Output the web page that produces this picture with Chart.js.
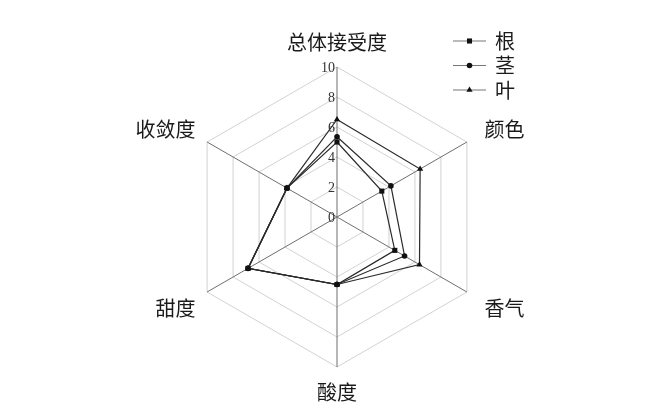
<!DOCTYPE html>
<html>
<head>
<meta charset="utf-8">
<script src="https://cdn.jsdelivr.net/npm/chart.js@4/dist/chart.umd.min.js"></script>
<style>
  html, body { margin: 0; padding: 0; background: #fff; }
  #wrap { width: 662px; height: 416px; }
</style>
</head>
<body>
<div id="wrap"><canvas id="radar"></canvas></div>
<script>
const categories = ['总体接受度', '颜色', '香气', '酸度', '甜度', '收敛度'];
const seriesNames = ['根', '茎', '叶'];
const rootValues = [5.0, 3.45, 4.45, 4.5, 6.85, 3.85];
const stemValues = [5.35, 4.15, 5.2, 4.5, 6.85, 3.85];
const leafValues = [6.5, 6.4, 6.35, 4.5, 6.85, 3.85];
const tickValues = [0, 2, 4, 6, 8, 10];

const cjkFont = '"Noto Sans CJK SC", "Noto Sans", sans-serif';

// axis names round the outside
const pointLabelPlugin = {
    id: 'pointLabelPlugin',
    afterDraw(chart) {
        const ctx = chart.ctx;
        const scale = chart.scales.r;
        ctx.save();
        ctx.font = '20px ' + cjkFont;
        ctx.fillStyle = '#1a1a1a';
        ctx.textBaseline = 'middle';
        categories.forEach((label, i) => {
            const pos = scale.getPointPosition(i, scale.drawingArea + 25);
            const dx = pos.x - scale.xCenter;
            const dy = pos.y - scale.yCenter;
            let x = pos.x;
            let y = pos.y + (Math.abs(dx) > 1 && dy > 0 ? 4 : 0);
            if (Math.abs(dx) < 1) {
                ctx.textAlign = 'center';
            } else if (dx > 0) {
                ctx.textAlign = 'left';
                x -= 4;
            } else {
                ctx.textAlign = 'right';
                x += 10;
            }
            ctx.fillText(label, x, y);
        });
        ctx.restore();
    }
};

// scale numbers to the left of the vertical axis
const tickLabelPlugin = {
    id: 'tickLabelPlugin',
    afterDraw(chart) {
        const ctx = chart.ctx;
        const scale = chart.scales.r;
        ctx.save();
        ctx.font = '14px "Liberation Serif", "DejaVu Serif", serif';
        ctx.fillStyle = '#333';
        ctx.textAlign = 'right';
        ctx.textBaseline = 'middle';
        tickValues.forEach(v => {
            const y = scale.yCenter - scale.getDistanceFromCenterForValue(v);
            ctx.fillText(String(v), scale.xCenter - 2, y + 1);
        });
        ctx.restore();
    }
};

function drawMarker(ctx, style, x, y, r) {
    ctx.beginPath();
    if (style === 'rect') {
        const s = r * Math.SQRT1_2;
        ctx.rect(x - s, y - s, 2 * s, 2 * s);
    } else if (style === 'triangle') {
        ctx.moveTo(x, y - r);
        ctx.lineTo(x + r * 0.87, y + r * 0.5);
        ctx.lineTo(x - r * 0.87, y + r * 0.5);
        ctx.closePath();
    } else {
        ctx.arc(x, y, r, 0, Math.PI * 2);
    }
    ctx.fill();
}

// vertical legend in the upper right corner
const legendPlugin = {
    id: 'legendPlugin',
    afterDraw(chart) {
        const ctx = chart.ctx;
        const left = 453, lineLen = 33, top = 41, step = 24.5;
        ctx.save();
        ctx.font = '20px ' + cjkFont;
        ctx.textBaseline = 'middle';
        ctx.textAlign = 'left';
        chart.data.datasets.forEach((ds, i) => {
            const y = top + i * step;
            ctx.strokeStyle = '#777';
            ctx.lineWidth = 1.2;
            ctx.beginPath();
            ctx.moveTo(left, y);
            ctx.lineTo(left + lineLen, y);
            ctx.stroke();
            ctx.fillStyle = '#111';
            drawMarker(ctx, ds.pointStyle, left + lineLen / 2, y, ds.pointRadius);
            ctx.fillStyle = '#1a1a1a';
            ctx.fillText(ds.label, left + lineLen + 9, y);
        });
        ctx.restore();
    }
};

function makeDataset(name, values, style, radius) {
    return {
        label: name,
        data: values,
        fill: false,
        borderColor: '#2b2b2b',
        borderWidth: 1.2,
        pointStyle: style,
        pointRadius: radius,
        pointBackgroundColor: '#111',
        pointBorderColor: '#111',
        pointBorderWidth: 0,
        tension: 0
    };
}

const ctx = document.getElementById('radar').getContext('2d');
new Chart(ctx, {
    type: 'radar',
    data: {
        labels: categories,
        datasets: [
            makeDataset(seriesNames[0], rootValues, 'rect', 3.6),
            makeDataset(seriesNames[1], stemValues, 'circle', 2.8),
            makeDataset(seriesNames[2], leafValues, 'triangle', 3.6)
        ]
    },
    options: {
        responsive: true,
        maintainAspectRatio: false,
        animation: false,
        layout: {
            padding: { top: 67, bottom: 49, left: 187, right: 175 }
        },
        plugins: {
            legend: { display: false },
            tooltip: { enabled: false }
        },
        scales: {
            r: {
                min: 0,
                max: 10,
                ticks: { stepSize: 2, display: false },
                grid: { color: '#d2d2d2', lineWidth: 1 },
                angleLines: { color: '#6e6e6e', lineWidth: 1 },
                pointLabels: { display: false }
            }
        }
    },
    plugins: [pointLabelPlugin, tickLabelPlugin, legendPlugin]
});
</script>
</body>
</html>
